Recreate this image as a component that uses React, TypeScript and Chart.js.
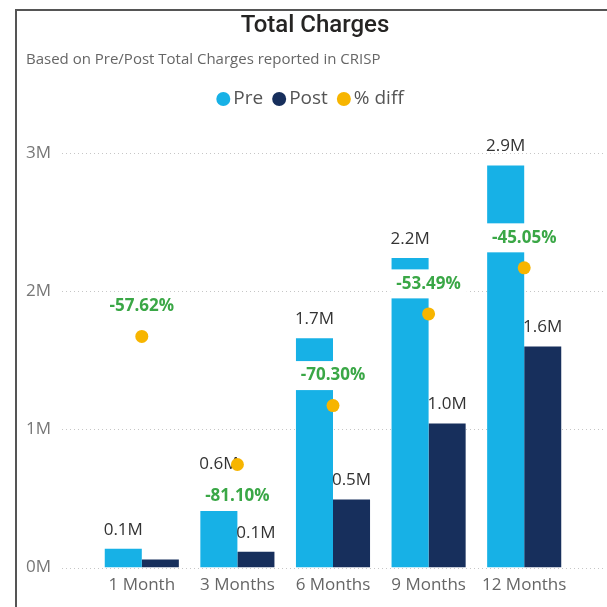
import React, { useEffect, useRef } from "react";
import { Chart, registerables } from "chart.js";

Chart.register(...registerables);

// ---------- data ----------
const categories = ["1 Month", "3 Months", "6 Months", "9 Months", "12 Months"];
const preValues = [137000, 610000, 1660000, 2240000, 2910000];
const postValues = [58000, 115000, 493000, 1042000, 1599000];
const pctDiff = [-57.62, -81.1, -70.3, -53.49, -45.05];
const seriesNames = ["Pre", "Post", "% diff"];
const yTickValues = [0, 1000000, 2000000, 3000000];

const TITLE = "Total Charges";
const SUBTITLE = "Based on Pre/Post Total Charges reported in CRISP";

// ---------- styles ----------
const PRE_COLOR = "#17B1E6";
const POST_COLOR = "#172F5C";
const DOT_COLOR = "#F7B500";
const GREEN = "#3AA746";
const FONT = "'Open Sans', 'Noto Sans', sans-serif";

const fmtM = (v: number) => (v / 1e6).toFixed(1) + "M";
const fmtPct = (v: number) => v.toFixed(2) + "%";

type Box = { x: number; y: number; w: number; h: number };
const overlaps = (a: Box, b: Box, m = 0) =>
  a.x - m < b.x + b.w && a.x + a.w + m > b.x && a.y - m < b.y + b.h && a.y + a.h + m > b.y;

const decorPlugin = {
  id: "decor",
  beforeDraw(chart: any) {
    const ctx = chart.ctx as CanvasRenderingContext2D;
    const W = chart.width;
    const H = chart.height;
    ctx.save();
    ctx.fillStyle = "#ffffff";
    ctx.fillRect(0, 0, W, H);
    // frame
    ctx.strokeStyle = "#555555";
    ctx.lineWidth = 2;
    ctx.beginPath();
    ctx.moveTo(16, H);
    ctx.lineTo(16, 10);
    ctx.lineTo(W, 10);
    ctx.stroke();
    // title
    ctx.fillStyle = "#252423";
    ctx.font = "500 24px Roboto, 'Open Sans', sans-serif";
    ctx.textAlign = "center";
    ctx.textBaseline = "alphabetic";
    ctx.fillText(TITLE, 315, 32);
    // subtitle
    ctx.fillStyle = "#666666";
    ctx.font = `15px ${FONT}`;
    ctx.textAlign = "left";
    ctx.fillText(SUBTITLE, 26, 64);
    // legend
    const ds = chart.data.datasets;
    ctx.font = `19px ${FONT}`;
    const r = 7;
    const gap = 3;
    const spacing = 9;
    const widths = ds.map((d: any) => 2 * r + gap + ctx.measureText(d.label).width);
    const total = widths.reduce((a: number, b: number) => a + b, 0) + spacing * (ds.length - 1);
    let x = 310 - total / 2;
    const ly = 99;
    ds.forEach((d: any, i: number) => {
      ctx.fillStyle = d.pointBackgroundColor || d.backgroundColor;
      ctx.beginPath();
      ctx.arc(x + r, ly, r, 0, Math.PI * 2);
      ctx.fill();
      ctx.fillStyle = "#555555";
      ctx.textBaseline = "middle";
      ctx.fillText(d.label, x + 2 * r + gap, ly);
      x += widths[i] + spacing;
    });
    ctx.restore();
  },
  beforeDatasetsDraw(chart: any) {
    const ctx = chart.ctx as CanvasRenderingContext2D;
    const y = chart.scales.y;
    ctx.save();
    ctx.strokeStyle = "#c6c6c6";
    ctx.lineWidth = 1;
    ctx.setLineDash([1, 3]);
    y.ticks.forEach((t: any) => {
      const py = Math.round(y.getPixelForValue(t.value)) + 0.5;
      ctx.beginPath();
      ctx.moveTo(62, py);
      ctx.lineTo(603, py);
      ctx.stroke();
    });
    ctx.restore();
  },
  beforeDatasetDraw(chart: any, args: any) {
    if (args.index !== 2) return;
    const ctx = chart.ctx as CanvasRenderingContext2D;
    ctx.save();
    ctx.textAlign = "center";
    ctx.textBaseline = "middle";
    // value labels for bars
    ctx.font = `17px ${FONT}`;
    ctx.fillStyle = "#333333";
    const placed: Box[] = [];
    [0, 1].forEach((di) => {
      const meta = chart.getDatasetMeta(di);
      const vals = chart.data.datasets[di].data as number[];
      meta.data.forEach((el: any, i: number) => {
        const txt = fmtM(vals[i]);
        const w = ctx.measureText(txt).width;
        const cy = el.y - 19;
        const box = { x: el.x - w / 2 - 1, y: cy - 9, w: w + 2, h: 18 };
        if (placed.some((p) => overlaps(p, box))) return;
        placed.push(box);
        ctx.fillText(txt, el.x, cy);
      });
    });
    // % diff labels with white background
    ctx.font = `bold 17px ${FONT}`;
    const meta = chart.getDatasetMeta(2);
    const vals = chart.data.datasets[2].data as number[];
    meta.data.forEach((el: any, i: number) => {
      const txt = fmtPct(vals[i]);
      const w = ctx.measureText(txt).width + 12;
      const h = 29;
      let cy = el.y - 30;
      let box = { x: el.x - w / 2, y: cy - h / 2, w, h };
      if (placed.some((p) => overlaps(p, box, 10))) {
        cy = el.y + 32;
        box = { x: el.x - w / 2, y: cy - h / 2, w, h };
      }
      ctx.fillStyle = "#ffffff";
      ctx.fillRect(box.x, box.y, box.w, box.h);
      ctx.fillStyle = GREEN;
      ctx.fillText(txt, el.x, cy);
    });
    ctx.restore();
  },
};

export default function App() {
  const ref = useRef<HTMLCanvasElement | null>(null);
  useEffect(() => {
    if (!ref.current) return;
    Chart.defaults.font.family = FONT;
    const chart = new Chart(ref.current, {
      type: "bar",
      data: {
        labels: categories,
        datasets: [
          {
            type: "bar",
            label: seriesNames[0],
            data: preValues,
            backgroundColor: PRE_COLOR,
            yAxisID: "y",
            order: 2,
            categoryPercentage: 0.775,
            barPercentage: 1,
            borderWidth: 0,
          },
          {
            type: "bar",
            label: seriesNames[1],
            data: postValues,
            backgroundColor: POST_COLOR,
            yAxisID: "y",
            order: 2,
            categoryPercentage: 0.775,
            barPercentage: 1,
            borderWidth: 0,
          },
          {
            type: "line",
            label: seriesNames[2],
            data: pctDiff,
            yAxisID: "y2",
            showLine: false,
            order: 0,
            pointRadius: 6.5,
            pointHoverRadius: 6.5,
            pointBorderWidth: 0,
            pointBackgroundColor: DOT_COLOR,
            backgroundColor: DOT_COLOR,
            borderColor: DOT_COLOR,
          } as any,
        ],
      },
      options: {
        responsive: false,
        animation: false,
        events: [],
        layout: { padding: { left: 26, right: 35, top: 153, bottom: 5 } },
        plugins: {
          legend: { display: false },
          title: { display: false },
          tooltip: { enabled: false },
        },
        scales: {
          x: {
            offset: true,
            grid: { display: false, drawTicks: false },
            border: { display: false },
            ticks: { color: "#666666", font: { size: 17, family: FONT }, padding: 7 },
          },
          y: {
            position: "left",
            min: 0,
            max: yTickValues[yTickValues.length - 1],
            afterFit: (s: any) => {
              s.width = 68;
            },
            afterBuildTicks: (s: any) => {
              s.ticks = yTickValues.map((v) => ({ value: v }));
            },
            grid: { display: false, drawTicks: false },
            border: { display: false },
            ticks: {
              crossAlign: "far",
              color: "#777777",
              font: { size: 17, family: FONT },
              callback: (v: any) => Number(v) / 1e6 + "M",
            },
          },
          y2: {
            display: false,
            min: -100,
            max: -24,
          },
        },
      },
      plugins: [decorPlugin],
    });
    return () => chart.destroy();
  }, []);
  return (
    <div style={{ position: "absolute", left: 0, top: 0, width: 607, height: 607 }}>
      <canvas ref={ref} width={607} height={607} style={{ display: "block" }} />
    </div>
  );
}
